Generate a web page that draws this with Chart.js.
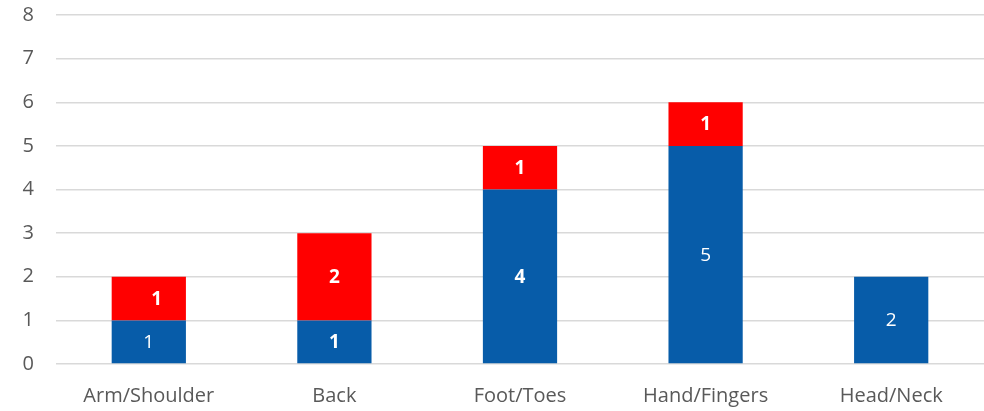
<!DOCTYPE html>
<html>
<head>
<meta charset="utf-8">
<script src="https://cdn.jsdelivr.net/npm/chart.js@4/dist/chart.umd.min.js"></script>
<style>
  html, body { margin: 0; padding: 0; background: #fff; }
  #wrap { width: 984px; height: 411px; position: relative; }
</style>
</head>
<body>
<div id="wrap"><canvas id="mycanvas"></canvas></div>
<script>
var categories = ['Arm/Shoulder', 'Back', 'Foot/Toes', 'Hand/Fingers', 'Head/Neck'];
var blueValues = [1, 1, 4, 5, 2];
var redValues = [1, 2, 1, 1, 0];
var yTicks = [0, 1, 2, 3, 4, 5, 6, 7, 8];

// which value labels are bold in the original
var blueBold = [false, true, true, false, false];
var redBold = [true, true, true, true, true];

var fontFamily = "'Open Sans', 'Liberation Sans', sans-serif";

var valueLabels = {
  id: 'valueLabels',
  afterDatasetsDraw: function(chart) {
    var ctx = chart.ctx;
    ctx.save();
    ctx.fillStyle = '#ffffff';
    ctx.textAlign = 'center';
    ctx.textBaseline = 'middle';
    chart.data.datasets.forEach(function(ds, di) {
      var meta = chart.getDatasetMeta(di);
      var bold = di === 0 ? blueBold : redBold;
      meta.data.forEach(function(bar, i) {
        var v = ds.data[i];
        if (!v) return;
        ctx.font = (bold[i] ? 'bold ' : '') + '19px ' + fontFamily;
        var dx = (di === 1 && i === 0) ? 8 : 0;
        ctx.fillText(String(v), bar.x + dx, (bar.y + bar.base) / 2 + 1);
      });
    });
    ctx.restore();
  }
};

var chartdata = {
  labels: categories,
  datasets: [
    {
      label: 'Series 1',
      backgroundColor: '#075CA9',
      borderWidth: 0,
      data: blueValues,
      barPercentage: 0.4,
      categoryPercentage: 1.0
    },
    {
      label: 'Series 2',
      backgroundColor: '#FF0000',
      borderWidth: 0,
      data: redValues,
      barPercentage: 0.4,
      categoryPercentage: 1.0
    }
  ]
};

var ctx = document.getElementById('mycanvas');

var barGraph = new Chart(ctx, {
  type: 'bar',
  data: chartdata,
  plugins: [valueLabels],
  options: {
    responsive: true,
    maintainAspectRatio: false,
    animation: false,
    layout: { padding: { top: 15, right: 0, left: 0, bottom: 0 } },
    plugins: {
      legend: { display: false },
      tooltip: { enabled: false }
    },
    scales: {
      x: {
        stacked: true,
        grid: { display: false },
        border: { display: false },
        afterFit: function(scale) {
          scale.height = 47;
          scale.paddingLeft = 0;
          scale.paddingRight = 0;
        },
        ticks: {
          color: '#595959',
          font: { family: fontFamily, size: 20 },
          padding: 12,
          maxRotation: 0
        }
      },
      y: {
        stacked: true,
        min: yTicks[0],
        max: yTicks[yTicks.length - 1],
        afterBuildTicks: function(scale) {
          scale.ticks = yTicks.map(function(v) { return { value: v }; });
        },
        afterFit: function(scale) {
          scale.width = 56;
          scale.paddingTop = 0;
          scale.paddingBottom = 0;
        },
        grid: { color: '#d9d9d9', lineWidth: 1.5, drawTicks: false },
        border: { display: false },
        ticks: {
          color: '#595959',
          font: { family: fontFamily, size: 20 },
          padding: 22
        }
      }
    }
  }
});
</script>
</body>
</html>
